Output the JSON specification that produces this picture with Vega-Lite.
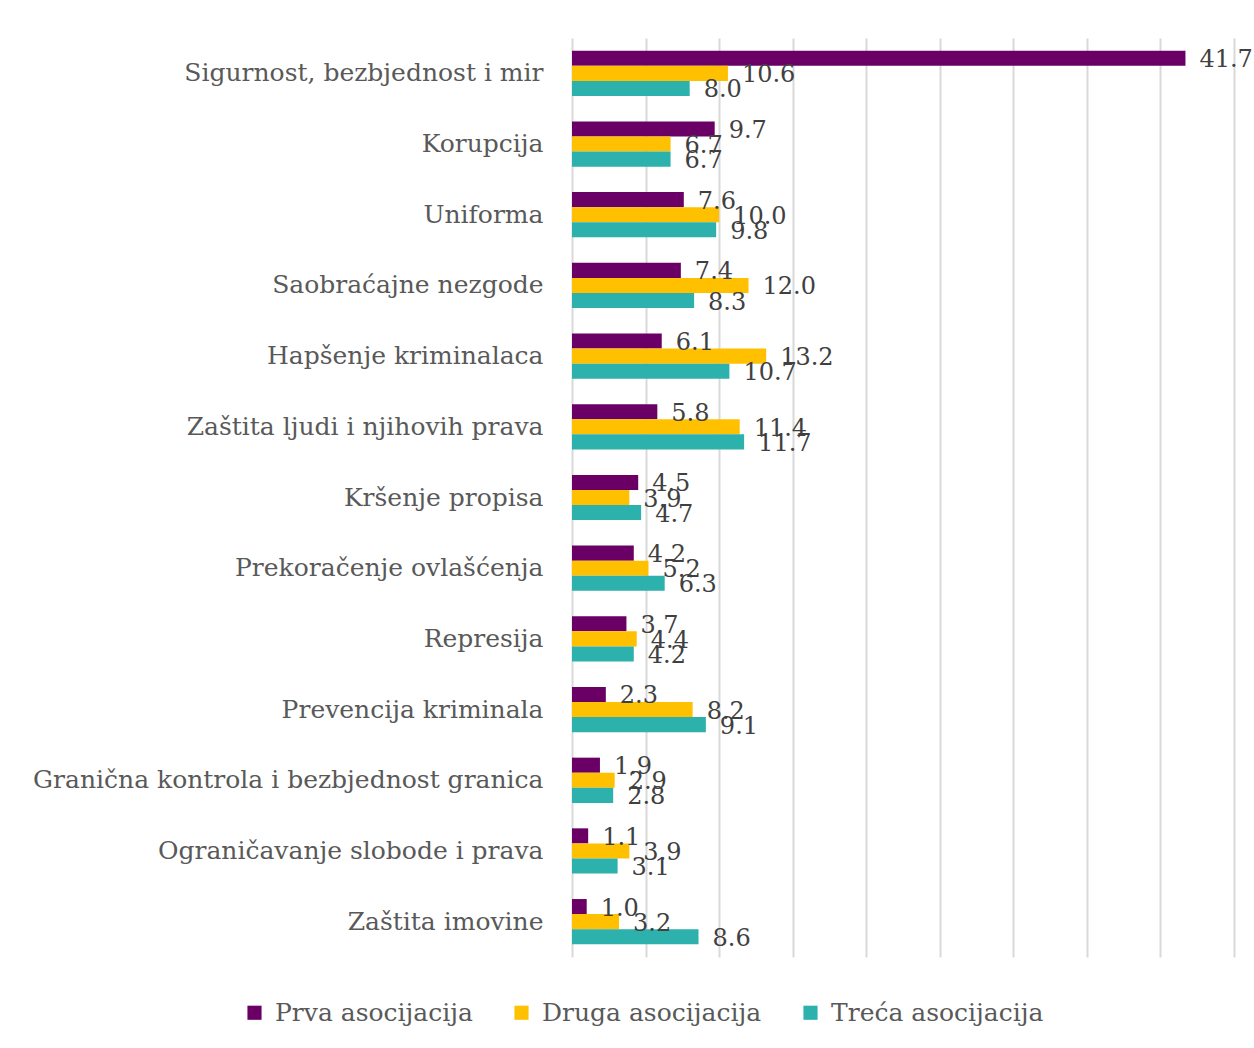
{
  "$schema": "https://vega.github.io/schema/vega-lite/v6.json",
  "width": 662,
  "height": 919,
  "autosize": {"type": "none"},
  "padding": {"left": 572, "top": 38, "right": 20, "bottom": 91},
  "background": "white",
  "config": {
    "view": {"stroke": null},
    "font": "DejaVu Serif"
  },
  "data": {
    "values": [
      {"cat": "Sigurnost, bezbjednost i  mir", "ser": "Prva asocijacija", "v": 41.7},
      {"cat": "Sigurnost, bezbjednost i  mir", "ser": "Druga asocijacija", "v": 10.6},
      {"cat": "Sigurnost, bezbjednost i  mir", "ser": "Treća asocijacija", "v": 8.0},
      {"cat": "Korupcija", "ser": "Prva asocijacija", "v": 9.7},
      {"cat": "Korupcija", "ser": "Druga asocijacija", "v": 6.7},
      {"cat": "Korupcija", "ser": "Treća asocijacija", "v": 6.7},
      {"cat": "Uniforma", "ser": "Prva asocijacija", "v": 7.6},
      {"cat": "Uniforma", "ser": "Druga asocijacija", "v": 10.0},
      {"cat": "Uniforma", "ser": "Treća asocijacija", "v": 9.8},
      {"cat": "Saobraćajne nezgode", "ser": "Prva asocijacija", "v": 7.4},
      {"cat": "Saobraćajne nezgode", "ser": "Druga asocijacija", "v": 12.0},
      {"cat": "Saobraćajne nezgode", "ser": "Treća asocijacija", "v": 8.3},
      {"cat": "Hapšenje kriminalaca", "ser": "Prva asocijacija", "v": 6.1},
      {"cat": "Hapšenje kriminalaca", "ser": "Druga asocijacija", "v": 13.2},
      {"cat": "Hapšenje kriminalaca", "ser": "Treća asocijacija", "v": 10.7},
      {"cat": "Zaštita ljudi i njihovih prava", "ser": "Prva asocijacija", "v": 5.8},
      {"cat": "Zaštita ljudi i njihovih prava", "ser": "Druga asocijacija", "v": 11.4},
      {"cat": "Zaštita ljudi i njihovih prava", "ser": "Treća asocijacija", "v": 11.7},
      {"cat": "Kršenje propisa", "ser": "Prva asocijacija", "v": 4.5},
      {"cat": "Kršenje propisa", "ser": "Druga asocijacija", "v": 3.9},
      {"cat": "Kršenje propisa", "ser": "Treća asocijacija", "v": 4.7},
      {"cat": "Prekoračenje ovlašćenja", "ser": "Prva asocijacija", "v": 4.2},
      {"cat": "Prekoračenje ovlašćenja", "ser": "Druga asocijacija", "v": 5.2},
      {"cat": "Prekoračenje ovlašćenja", "ser": "Treća asocijacija", "v": 6.3},
      {"cat": "Represija", "ser": "Prva asocijacija", "v": 3.7},
      {"cat": "Represija", "ser": "Druga asocijacija", "v": 4.4},
      {"cat": "Represija", "ser": "Treća asocijacija", "v": 4.2},
      {"cat": "Prevencija kriminala", "ser": "Prva asocijacija", "v": 2.3},
      {"cat": "Prevencija kriminala", "ser": "Druga asocijacija", "v": 8.2},
      {"cat": "Prevencija kriminala", "ser": "Treća asocijacija", "v": 9.1},
      {"cat": "Granična kontrola i bezbjednost granica", "ser": "Prva asocijacija", "v": 1.9},
      {"cat": "Granična kontrola i bezbjednost granica", "ser": "Druga asocijacija", "v": 2.9},
      {"cat": "Granična kontrola i bezbjednost granica", "ser": "Treća asocijacija", "v": 2.8},
      {"cat": "Ograničavanje slobode i prava", "ser": "Prva asocijacija", "v": 1.1},
      {"cat": "Ograničavanje slobode i prava", "ser": "Druga asocijacija", "v": 3.9},
      {"cat": "Ograničavanje slobode i prava", "ser": "Treća asocijacija", "v": 3.1},
      {"cat": "Zaštita imovine", "ser": "Prva asocijacija", "v": 1.0},
      {"cat": "Zaštita imovine", "ser": "Druga asocijacija", "v": 3.2},
      {"cat": "Zaštita imovine", "ser": "Treća asocijacija", "v": 8.6}
    ]
  },
  "encoding": {
    "y": {
      "field": "cat", "type": "nominal", "sort": null,
      "scale": {"paddingInner": 0.36, "paddingOuter": 0.18},
      "axis": {
        "title": null, "domain": false, "ticks": false, "labelPadding": 29,
        "labelFontSize": 25, "labelColor": "#595959", "labelFont": "DejaVu Serif",
        "labelLimit": 600
      }
    },
    "yOffset": {
      "field": "ser", "type": "nominal",
      "sort": ["Prva asocijacija", "Druga asocijacija", "Treća asocijacija"]
    },
    "x": {
      "field": "v", "type": "quantitative",
      "scale": {"domain": [0, 45], "nice": false},
      "axis": {
        "title": null, "labels": false, "ticks": false, "domain": false,
        "grid": true, "gridColor": "#d9d9d9", "gridWidth": 2,
        "values": [0, 5, 10, 15, 20, 25, 30, 35, 40, 45]
      }
    }
  },
  "layer": [
    {
      "mark": {"type": "bar"},
      "encoding": {
        "color": {
          "field": "ser", "type": "nominal",
          "sort": ["Prva asocijacija", "Druga asocijacija", "Treća asocijacija"],
          "scale": {
            "domain": ["Prva asocijacija", "Druga asocijacija", "Treća asocijacija"],
            "range": ["#6a0066", "#ffc000", "#2cb1ad"]
          },
          "legend": {
            "title": null, "orient": "none", "direction": "horizontal",
            "legendX": -330, "legendY": 962, "columns": 3, "columnPadding": 36,
            "symbolType": "square", "symbolSize": 200, "symbolStrokeWidth": 0,
            "labelFontSize": 25, "labelColor": "#595959", "labelFont": "DejaVu Serif",
            "labelOffset": 8, "labelLimit": 400
          }
        }
      }
    },
    {
      "mark": {"type": "text", "align": "left", "baseline": "middle", "dx": 14, "dy": 2, "fontSize": 24, "color": "#404040", "font": "DejaVu Serif"},
      "encoding": {
        "text": {"field": "v", "type": "quantitative", "format": ".1f"}
      }
    }
  ]
}
